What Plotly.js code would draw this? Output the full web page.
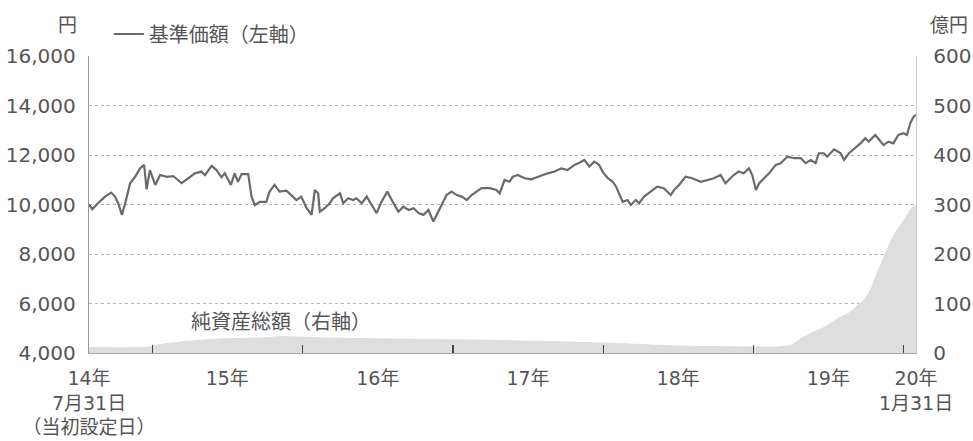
<!DOCTYPE html>
<html>
<head>
<meta charset="utf-8">
<script src="https://cdn.plot.ly/plotly-3.0.1.min.js"></script>
<style>
  html, body { margin: 0; padding: 0; background: #ffffff; }
  #chart { width: 973px; height: 441px; }
</style>
</head>
<body>
<div id="chart"></div>
<script>
// ---- Data ----
const navDates = [
  '2014-07-31','2014-08-08','2014-08-23','2014-09-08','2014-09-23','2014-10-02','2014-10-10','2014-10-19','2014-10-27','2014-11-08',
  '2014-11-20','2014-12-02','2014-12-12','2014-12-18','2014-12-26','2015-01-08','2015-01-20','2015-02-05','2015-02-21','2015-03-13',
  '2015-03-29','2015-04-14','2015-04-30','2015-05-09','2015-05-25','2015-06-06','2015-06-18','2015-06-26','2015-07-11','2015-07-20',
  '2015-07-28','2015-08-06','2015-08-22','2015-08-30','2015-09-07','2015-09-19','2015-10-05','2015-10-13','2015-10-25','2015-11-06',
  '2015-11-23','2015-12-05','2015-12-17','2015-12-29','2016-01-11','2016-01-23','2016-01-31','2016-02-08','2016-02-12','2016-02-24',
  '2016-03-07','2016-03-15','2016-04-01','2016-04-09','2016-04-21','2016-05-03','2016-05-11','2016-05-24','2016-06-05','2016-06-17',
  '2016-06-29','2016-07-11','2016-07-25','2016-08-09','2016-08-21','2016-09-02','2016-09-15','2016-09-27','2016-10-09','2016-10-21',
  '2016-11-02','2016-11-14','2016-11-26','2016-12-04','2016-12-16','2016-12-28','2017-01-10','2017-01-22','2017-02-03','2017-02-15',
  '2017-02-27','2017-03-11','2017-03-31','2017-04-16','2017-04-24','2017-05-06','2017-05-18','2017-05-26','2017-06-07','2017-06-24',
  '2017-07-10','2017-07-26','2017-08-19','2017-09-05','2017-09-21','2017-10-06','2017-10-23','2017-11-04','2017-11-16','2017-11-28',
  '2017-12-10','2017-12-22','2017-12-30','2018-01-12','2018-01-24','2018-02-01','2018-02-09','2018-02-17','2018-03-01','2018-03-09',
  '2018-03-21','2018-03-29','2018-04-10','2018-04-26','2018-05-12','2018-05-28','2018-06-14','2018-06-22','2018-07-04','2018-07-20',
  '2018-08-05','2018-08-26','2018-09-11','2018-09-27','2018-10-13','2018-10-25','2018-11-06','2018-11-14','2018-11-26','2018-12-08',
  '2018-12-21','2018-12-29','2019-01-07','2019-01-15','2019-01-27','2019-02-08','2019-02-24','2019-03-08','2019-03-24','2019-04-10',
  '2019-04-26','2019-05-08','2019-05-20','2019-06-01','2019-06-09','2019-06-21','2019-06-29','2019-07-16','2019-08-01','2019-08-09',
  '2019-08-21','2019-09-10','2019-09-18','2019-09-30','2019-10-08','2019-10-24','2019-11-05','2019-11-13','2019-11-25','2019-12-07',
  '2019-12-19','2020-01-01','2020-01-09','2020-01-17','2020-01-25','2020-01-31'
];
const navValues = [
  10000, 9810,10070,10320,10480,10320,10050, 9580,10050,10860,
  11120,11460,11600,10610,11390,10790,11190,11120,11150,10860,
  11060,11260,11330,11190,11560,11390,11100,11260,10790,11260,
  10920,11230,11230,10320, 9980,10110,10110,10520,10790,10520,
  10560,10380,10180,10320, 9850, 9580,10590,10450, 9710, 9850,
  10050,10250,10450,10050,10250,10180,10250,10050,10320, 9980,
   9650,10110,10520,10050, 9710, 9910, 9780, 9850, 9650, 9580,
   9780, 9310, 9710, 9980,10380,10520,10380,10320,10180,10380,
  10520,10660,10660,10590,10450,10990,10920,11120,11190,11060,
  11020,11120,11260,11330,11460,11390,11600,11690,11800,11530,
  11730,11600,11330,11060,10920,10720,10380,10110,10180, 9980,
  10180,10050,10320,10520,10720,10660,10380,10590,10790,11120,
  11060,10920,10990,11060,11190,10860,11060,11190,11330,11260,
  11460,11190,10590,10860,11060,11260,11600,11670,11930,11870,
  11870,11670,11800,11670,12070,12070,11930,12230,12070,11800,
  12070,12340,12470,12680,12540,12810,12540,12400,12540,12470,
  12810,12880,12810,13280,13550,13620
];

const assetDates = [
  '2014-07-31','2014-12-27','2015-01-12','2015-03-21','2015-06-09','2015-10-08','2015-11-06','2016-03-14','2016-08-24','2017-03-07',
  '2018-01-03','2018-07-03','2019-01-07','2019-03-01','2019-04-04','2019-04-28','2019-05-22','2019-06-25','2019-07-26','2019-08-20',
  '2019-09-13','2019-09-30','2019-10-15','2019-10-27','2019-11-08','2019-11-20','2019-12-02','2019-12-19','2020-01-05','2020-01-17',
  '2020-01-31'
];
const assetValues = [
  11, 12, 16, 23, 28, 31, 33, 30, 28, 26,
  20, 14, 12, 12, 16, 30, 40, 53, 70, 80,
  97,110,131,158,181,205,228,252,272,289,
  298
];

const yearTickDates  = ['2015-01-01','2016-01-01','2017-01-01','2018-01-01','2019-01-01','2020-01-01'];
const xLabelDates    = ['2014-07-31','2015-07-02','2016-07-02','2017-07-02','2018-07-02','2019-07-02','2020-01-31'];
const xLabelTexts    = ['14年<br>7月31日<br>（当初設定日）','15年','16年','17年','18年','19年','20年<br>1月31日'];
const leftTicks      = [4000, 6000, 8000, 10000, 12000, 14000, 16000];
const rightTicks     = [0, 100, 200, 300, 400, 500, 600];

const navName   = '基準価額（左軸）';
const assetName = '純資産総額（右軸）';

const FONT = 'DejaVu Sans, "Noto Sans CJK JP", sans-serif';
const TXT = '#555555';
const xRange = ['2014-07-31', '2020-01-31'];

const traces = [
  {
    x: navDates, y: navValues, type: 'scatter', mode: 'lines',
    name: navName, xaxis: 'x', yaxis: 'y',
    line: { color: '#6a6a6a', width: 2.2 },
    showlegend: true, hoverinfo: 'skip'
  },
  {
    x: assetDates, y: assetValues, type: 'scatter', mode: 'lines',
    name: assetName, xaxis: 'x2', yaxis: 'y2',
    fill: 'tozeroy', fillcolor: '#dedede',
    line: { color: '#dcdcdc', width: 1, shape: 'spline', smoothing: 0.6 },
    showlegend: false, hoverinfo: 'skip'
  }
];

const layout = {
  width: 973, height: 441,
  margin: { l: 89, r: 57, t: 56, b: 88, pad: 0 },
  paper_bgcolor: '#ffffff', plot_bgcolor: '#ffffff',
  font: { family: FONT, size: 20, color: TXT },
  showlegend: true,
  legend: {
    orientation: 'h', x: 0.024, xanchor: 'left', y: 1.074, yanchor: 'middle',
    bgcolor: 'rgba(0,0,0,0)', borderwidth: 0,
    font: { family: FONT, size: 20, color: TXT },
    itemwidth: 30
  },
  xaxis: {
    type: 'date', range: xRange, fixedrange: true,
    tickmode: 'array', tickvals: xLabelDates, ticktext: xLabelTexts,
    ticks: '', showgrid: false, zeroline: false,
    showline: true, linecolor: '#a8a8a8', linewidth: 1.2,
    tickfont: { family: FONT, size: 19, color: TXT },
    ticklabelstandoff: 8
  },
  xaxis2: {
    type: 'date', range: xRange, overlaying: 'x', anchor: 'y2', side: 'bottom',
    tickmode: 'array', tickvals: yearTickDates, showticklabels: false,
    ticks: 'inside', ticklen: 8, tickwidth: 1.3, tickcolor: '#444444',
    showgrid: false, zeroline: false, showline: false
  },
  yaxis: {
    range: [4000, 16000], tickmode: 'array', tickvals: leftTicks,
    tickformat: ',d', ticks: '', fixedrange: true,
    showgrid: true, gridcolor: '#b4b4b4', gridwidth: 1, griddash: 'dot',
    zeroline: false, showline: true, linecolor: '#9a9a9a', linewidth: 1.2,
    tickfont: { family: FONT, size: 20, color: TXT },
    ticklabelstandoff: 8
  },
  yaxis2: {
    range: [0, 600], overlaying: 'y', side: 'right', anchor: 'x2',
    tickmode: 'array', tickvals: rightTicks, ticks: '',
    showgrid: false, zeroline: false,
    showline: true, linecolor: '#cccccc', linewidth: 1.2,
    tickfont: { family: FONT, size: 20, color: TXT },
    ticklabelstandoff: 12
  },
  annotations: [
    { xref: 'paper', yref: 'paper', x: -0.0254, y: 1.104, text: '円', showarrow: false,
      xanchor: 'center', yanchor: 'middle', font: { family: FONT, size: 19, color: TXT } },
    { xref: 'paper', yref: 'paper', x: 1.040, y: 1.104, text: '億円', showarrow: false,
      xanchor: 'center', yanchor: 'middle', font: { family: FONT, size: 19, color: TXT } },
    { xref: 'paper', yref: 'paper', x: 0.232, y: 0.104, text: assetName, showarrow: false,
      xanchor: 'center', yanchor: 'middle', font: { family: FONT, size: 20, color: TXT } }
  ]
};

Plotly.newPlot('chart', traces, layout, { displayModeBar: false, staticPlot: true });
</script>
</body>
</html>
